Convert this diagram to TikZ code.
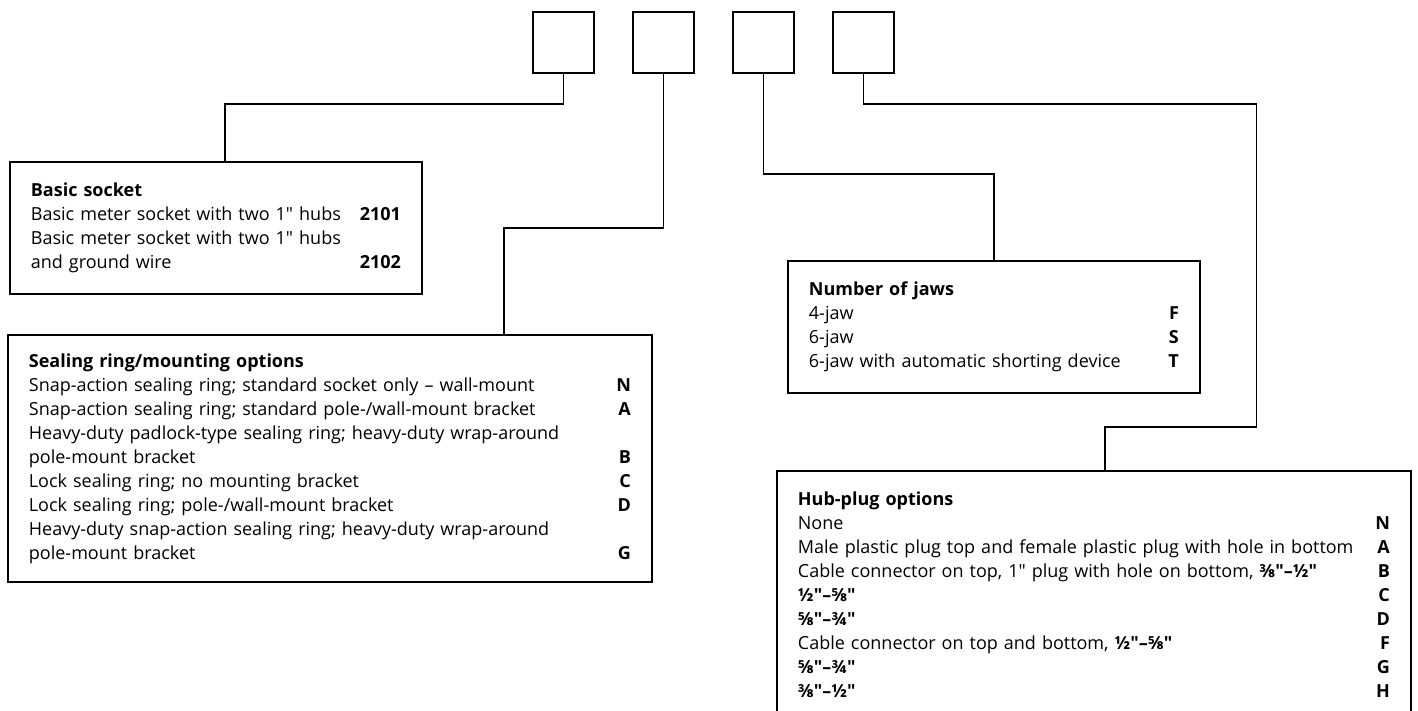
\documentclass[tikz,border=0pt]{standalone}
\usepackage{fontspec}
\setmainfont{Open Sans}[Ligatures=TeXOff]
\usetikzlibrary{positioning}

\begin{document}
\begin{tikzpicture}[
    x=0.5pt, y=-0.5pt,
    node distance=18.5pt,
    digit/.style={rectangle, draw, line width=1pt, minimum width=30.5pt, minimum height=30.5pt, inner sep=0pt},
    optbox/.style={rectangle, draw, line width=0.9pt, anchor=north west, inner xsep=10.5pt, inner ysep=0pt, align=left, font=\fontsize{9}{12}\selectfont},
    link/.style={line width=0.7pt}
]
    \useasboundingbox (0,0) rectangle (1418,711);
    \clip (0,0) rectangle (1418,711);

    \node[digit] (sq1) at (563.5,42.5) {};
    \node[digit, right=of sq1] (sq2) {};
    \node[digit, right=of sq2] (sq3) {};
    \node[digit, right=of sq3] (sq4) {};

    \node[optbox, text width=185pt, minimum height=66pt] (basic) at (9,161) {%
        \textbf{Basic socket}\\
        Basic meter socket with two 1" hubs\hfill\textbf{2101}\\
        Basic meter socket with two 1" hubs\\
        and ground wire\hfill\textbf{2102}};
    \node[optbox, text width=301pt, minimum height=123.5pt] (seal) at (7,334) {%
        \textbf{Sealing ring/mounting options}\\
        Snap-action sealing ring; standard socket only – wall-mount\hfill\textbf{N}\\
        Snap-action sealing ring; standard pole-/wall-mount bracket\hfill\textbf{A}\\
        Heavy-duty padlock-type sealing ring; heavy-duty wrap-around\\
        pole-mount bracket\hfill\textbf{B}\\
        Lock sealing ring; no mounting bracket\hfill\textbf{C}\\
        Lock sealing ring; pole-/wall-mount bracket\hfill\textbf{D}\\
        Heavy-duty snap-action sealing ring; heavy-duty wrap-around\\
        pole-mount bracket\hfill\textbf{G}};
    \node[optbox, text width=185pt, minimum height=66pt] (jaws) at (787,260) {%
        \textbf{Number of jaws}\\
        4-jaw\hfill\textbf{F}\\
        6-jaw\hfill\textbf{S}\\
        6-jaw with automatic shorting device\hfill\textbf{T}};
    \node[optbox, text width=296pt, minimum height=123.5pt] (hub) at (776,470) {%
        \textbf{Hub-plug options}\\
        None\hfill\textbf{N}\\
        Male plastic plug top and female plastic plug with hole in bottom\hfill\textbf{A}\\
        Cable connector on top, 1" plug with hole on bottom, \textbf{⅜"–½"}\hfill\textbf{B}\\
        \textbf{½"–⅝"}\hfill\textbf{C}\\
        \textbf{⅝"–¾"}\hfill\textbf{D}\\
        Cable connector on top and bottom, \textbf{½"–⅝"}\hfill\textbf{F}\\
        \textbf{⅝"–¾"}\hfill\textbf{G}\\
        \textbf{⅜"–½"}\hfill\textbf{H}};

    \draw[link] (sq1.south) -- ++(0,30) -| ([shift={(9,0)}]basic.north);
    \draw[link] (sq2.south) -- ++(0,154) -| ([shift={(174,0)}]seal.north);
    \draw[link] (sq3.south) -- ++(0,100) -| (jaws.north);
    \draw[link] (sq4.south) -- ++(0,30) -| ++(393,323) -| ([shift={(11,0)}]hub.north);
\end{tikzpicture}
\end{document}
